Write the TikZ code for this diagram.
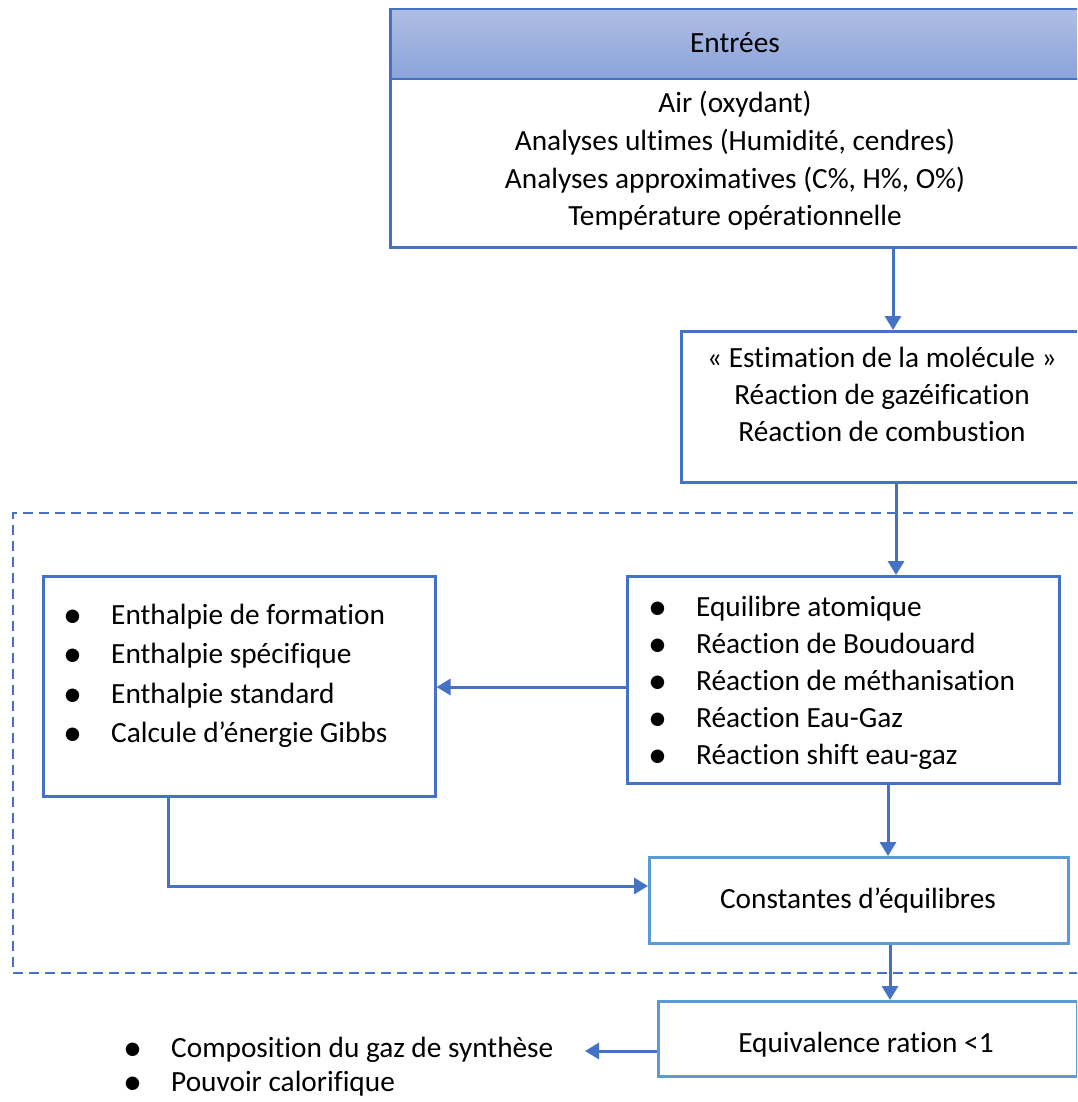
\documentclass[tikz,border=0pt]{standalone}
\usepackage{fontspec}
\setmainfont{Carlito}[Ligatures=NoCommon]
\usetikzlibrary{arrows.meta}
\definecolor{mblue}{HTML}{4472C4}
\definecolor{lblue}{HTML}{5B9BD5}
\definecolor{htop}{HTML}{AFBEE4}
\definecolor{hbot}{HTML}{8AA3D9}
\newcommand{\bul}[1]{\makebox[48pt][l]{\raisebox{-3pt}{\scalebox{1.3}{•}}}#1}
\begin{document}
\begin{tikzpicture}[x=1pt,y=-1pt,
  box/.style={draw=mblue, line width=2.5pt, rectangle, inner sep=0pt, anchor=north west},
  lbox/.style={box, draw=lblue},
  txt/.style={font=\fontsize{29.3}{37}\selectfont, inner sep=0pt},
  ctxt/.style={txt, anchor=base},
  ltxt/.style={txt, anchor=base west},
  arr/.style={draw=mblue, line width=3pt, -{Triangle[width=16pt,length=14pt]}},
]
\useasboundingbox (0,0) rectangle (1077,1102);
\clip (0,0) rectangle (1077,1102);
\fill[white] (0,0) rectangle (1077,1102);

% dashed group
\node[box, dash pattern=on 10pt off 6pt, line width=2pt, minimum width=1100pt, minimum height=460pt] (grp) at (12,512) {};

% inputs
\node[box, top color=htop, bottom color=hbot, minimum width=700pt, minimum height=70pt] (hdr) at (389,8) {};
\node[txt] (hdrtxt) at (735,43) {Entrées};
\node[box, fill=white, minimum width=700pt, minimum height=168pt] (inp) at (389,78) {};
\foreach \t [count=\i] in {Air (oxydant), {Analyses ultimes (Humidité, cendres)}, {Analyses approximatives (C\%, H\%, O\%)}, Température opérationnelle}
  \node[ctxt] (inp\i) at (735,{113+37.6*(\i-1)}) {\t};

% molecule
\node[box, minimum width=420pt, minimum height=151pt] (mol) at (680,330) {};
\foreach \t [count=\i] in {« Estimation de la molécule », Réaction de gazéification, Réaction de combustion}
  \node[ctxt] (mol\i) at (882,{367+37*(\i-1)}) {\t};

% enthalpy
\node[box, minimum width=392pt, minimum height=220pt] (enth) at (42,575) {};
\foreach \t [count=\i] in {Enthalpie de formation, Enthalpie spécifique, Enthalpie standard, Calcule d’énergie Gibbs}
  \node[ltxt] (enth\i) at (63,{624+39.5*(\i-1)}) {\bul{\t}};

% equilibrium
\node[box, minimum width=432pt, minimum height=207pt] (eq) at (626,575) {};
\foreach \t [count=\i] in {Equilibre atomique, Réaction de Boudouard, Réaction de méthanisation, Réaction Eau-Gaz, Réaction shift eau-gaz}
  \node[ltxt] (eq\i) at (648,{616+37.2*(\i-1)}) {\bul{\t}};

% constants
\node[lbox, minimum width=419pt, minimum height=86pt] (cst) at (648,856) {};
\node[ctxt] (csttxt) at (858,908) {Constantes d’équilibres};

% equivalence
\node[lbox, minimum width=419pt, minimum height=75pt] (eqv) at (657,1000) {};
\node[ctxt] (eqvtxt) at (866,1052) {Equivalence ration <1};

% output list
\node[txt, font=\fontsize{29.3}{34}\selectfont, align=left, anchor=west] (out) at (123,1067) {\bul{Composition du gaz de synthèse}\\\bul{Pouvoir calorifique}};

% helper coordinates
\coordinate (x1) at (893,0);
\coordinate (x2) at (896,0);
\coordinate (x3) at (888,0);
\coordinate (x4) at (890,0);
\coordinate (y1) at (0,687);
\coordinate (x5) at (168,0);
\coordinate (y2) at (0,886);
\coordinate (y3) at (0,1051);
\coordinate (outend) at (585,1051);

% connectors
\draw[arr] (inp.south -| x1) -- (mol.north -| x1);
\draw[arr] (mol.south -| x2) -- (eq.north -| x2);
\draw[arr] (eq.west |- y1) -- (enth.east |- y1);
\draw[arr] (eq.south -| x3) -- (cst.north -| x3);
\draw[arr] (enth.south -| x5) -- (x5 |- y2) -- (cst.west |- y2);
\draw[arr] (cst.south -| x4) -- (eqv.north -| x4);
\draw[arr] (eqv.west |- y3) -- (outend);
\end{tikzpicture}
\end{document}
